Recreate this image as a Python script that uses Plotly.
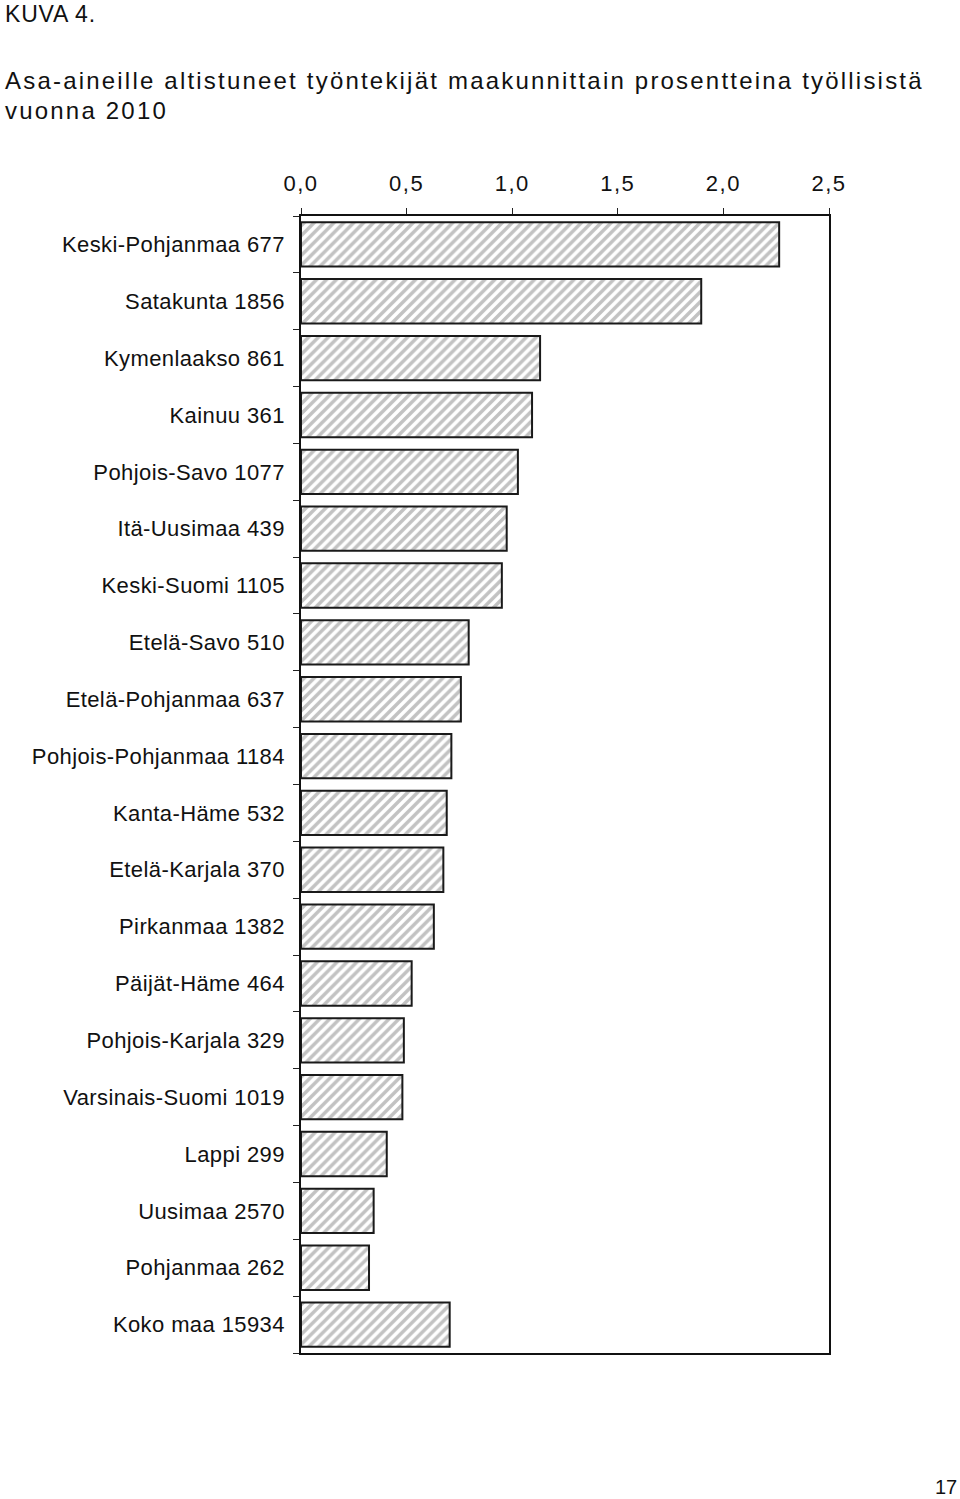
import plotly.graph_objects as go

categories = [
    "Keski-Pohjanmaa 677", "Satakunta 1856", "Kymenlaakso 861", "Kainuu 361",
    "Pohjois-Savo 1077", "Itä-Uusimaa 439", "Keski-Suomi 1105", "Etelä-Savo 510",
    "Etelä-Pohjanmaa 637", "Pohjois-Pohjanmaa 1184", "Kanta-Häme 532",
    "Etelä-Karjala 370", "Pirkanmaa 1382", "Päijät-Häme 464", "Pohjois-Karjala 329",
    "Varsinais-Suomi 1019", "Lappi 299", "Uusimaa 2570", "Pohjanmaa 262",
    "Koko maa 15934",
]
values = [
    2.264, 1.895, 1.132, 1.094, 1.027, 0.974, 0.951, 0.794, 0.757, 0.712,
    0.690, 0.674, 0.629, 0.524, 0.487, 0.480, 0.406, 0.344, 0.322, 0.704,
]
x_ticks = [0, 0.5, 1.0, 1.5, 2.0, 2.5]
x_tick_labels = ["0,0", "0,5", "1,0", "1,5", "2,0", "2,5"]

FONT = "Liberation Sans, Arial, sans-serif"


def spaced(text, ls):
    return f'<span style="letter-spacing:{ls}px">{text}</span>'


fig = go.Figure()
fig.add_trace(go.Bar(
    x=values,
    y=categories,
    orientation="h",
    marker=dict(
        color="white",
        line=dict(color="#1a1a1a", width=2),
        pattern=dict(shape="/", fgcolor="#858585", bgcolor="white",
                     size=7, solidity=0.5),
    ),
    hoverinfo="skip",
))

fig.update_layout(
    width=960,
    height=1499,
    margin=dict(l=301, r=131, t=216, b=146, pad=0),
    paper_bgcolor="white",
    plot_bgcolor="white",
    separators=", ",
    bargap=0.22,
    showlegend=False,
    font=dict(family=FONT, color="#111111", size=22),
)

fig.update_xaxes(
    side="top",
    range=[0, 2.5],
    tickvals=x_ticks,
    ticktext=[spaced(t, 1.5) for t in x_tick_labels],
    ticks="outside",
    ticklen=6,
    tickwidth=1,
    tickcolor="#222222",
    showgrid=False,
    zeroline=False,
    showline=True,
    linecolor="#111111",
    linewidth=1.5,
    mirror=True,
    tickfont=dict(family=FONT, size=22, color="#111111"),
    ticklabelstandoff=8,
)
fig.update_yaxes(
    autorange="reversed",
    type="category",
    tickson="boundaries",
    tickvals=categories,
    ticktext=[spaced(c, 0.4) for c in categories],
    ticks="outside",
    ticklen=6,
    tickwidth=1,
    tickcolor="#222222",
    showgrid=False,
    showline=True,
    linecolor="#111111",
    linewidth=1.5,
    mirror=True,
    tickfont=dict(family=FONT, size=22, color="#111111"),
    ticklabelstandoff=10,
)


def px_x(px):
    return (px - 301) / (828.7 - 301)


def px_y(py):
    return (1352.7 - py) / (1352.7 - 215.7)


annotations = [
    dict(text=spaced("KUVA 4.", 0.8), x=px_x(4), y=px_y(13.2), font=dict(size=23)),
    dict(text=spaced("Asa-aineille altistuneet työntekijät maakunnittain prosentteina työllisistä", 2.2),
         x=px_x(4), y=px_y(80.5), font=dict(size=24)),
    dict(text=spaced("vuonna 2010", 2.2),
         x=px_x(4), y=px_y(110.5), font=dict(size=24)),
]
for a in annotations:
    fig.add_annotation(xref="paper", yref="paper", xanchor="left", yanchor="middle",
                       showarrow=False, borderpad=0, **a)
fig.add_annotation(text="17", xref="paper", yref="paper", x=px_x(958), y=px_y(1487),
                   xanchor="right", yanchor="middle", showarrow=False, borderpad=0,
                   font=dict(size=20))

fig.write_html(
    "out.html",
    config={"displayModeBar": False},
    post_script="document.body.style.margin='0px';document.body.style.padding='0px';",
)
